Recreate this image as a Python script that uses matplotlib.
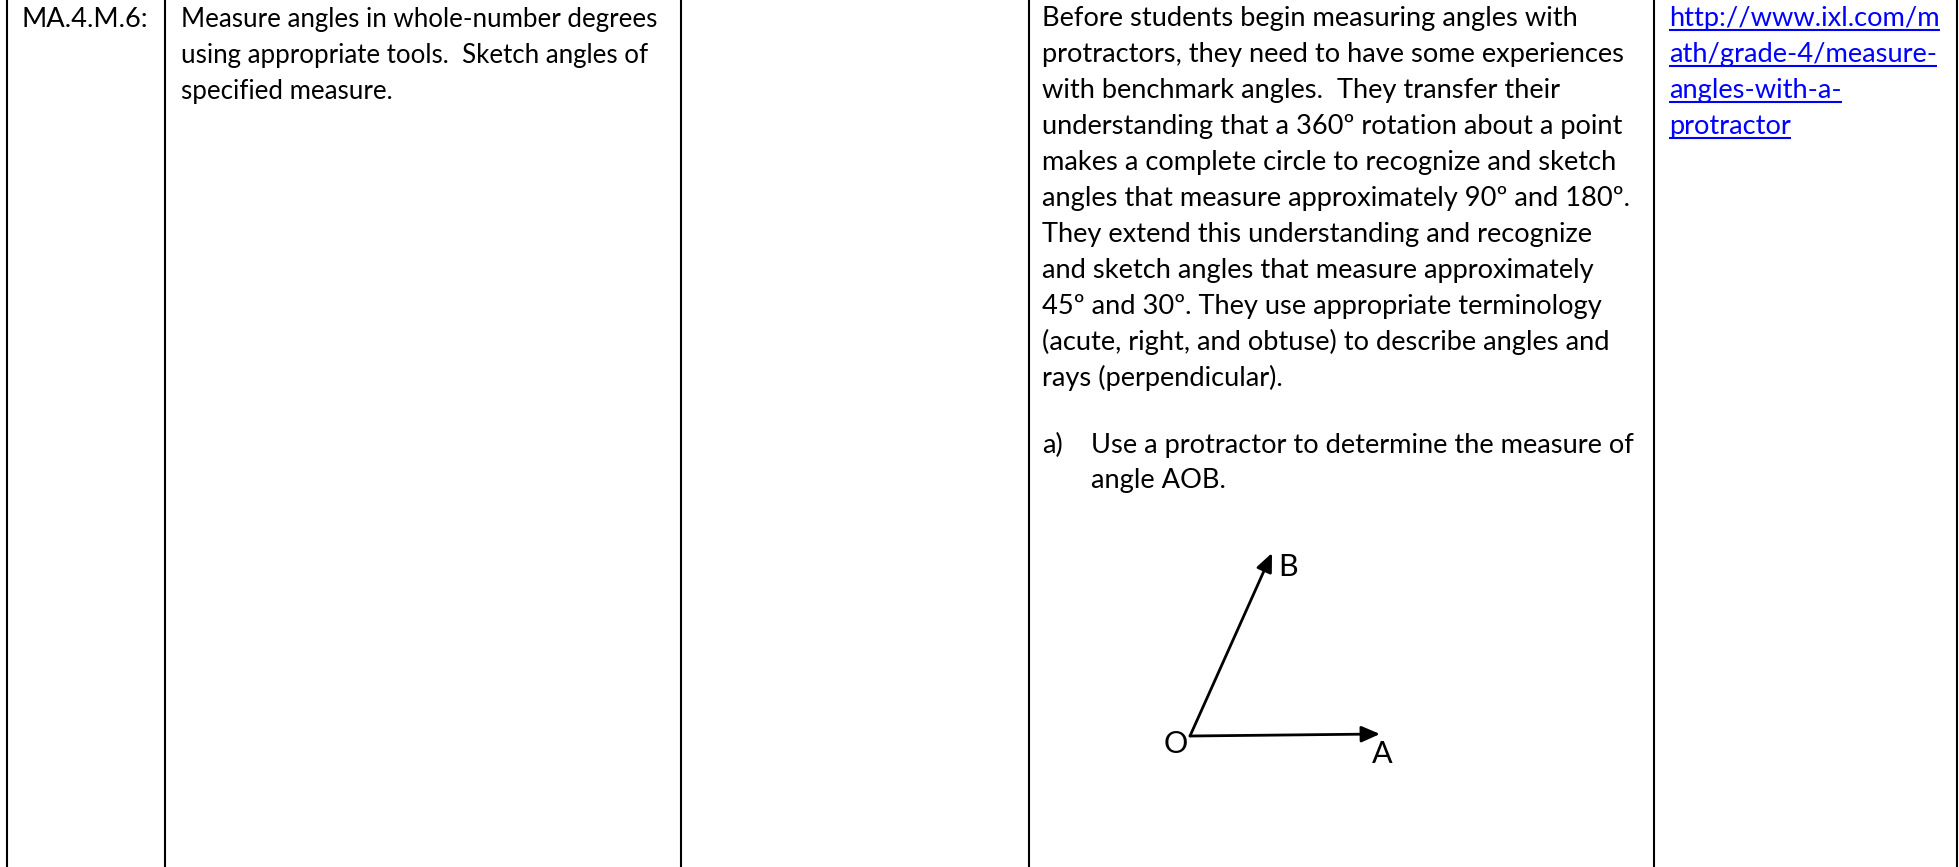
import matplotlib
matplotlib.use('Agg')
import matplotlib.pyplot as plt

W, H = 1959, 867

column_lines = [7, 165, 681, 1029, 1654, 1957]

code_lines = ["MA.4.M.6:"]
standard_lines = [
    "Measure angles in whole-number degrees",
    "using appropriate tools.  Sketch angles of",
    "specified measure.",
]
notes_lines = [
    "Before students begin measuring angles with",
    "protractors, they need to have some experiences",
    "with benchmark angles.  They transfer their",
    "understanding that a 360º rotation about a point",
    "makes a complete circle to recognize and sketch",
    "angles that measure approximately 90º and 180º.",
    "They extend this understanding and recognize",
    "and sketch angles that measure approximately",
    "45º and 30º. They use appropriate terminology",
    "(acute, right, and obtuse) to describe angles and",
    "rays (perpendicular).",
]
item_marker = "a)"
item_lines = [
    "Use a protractor to determine the measure of",
    "angle AOB.",
]
link_lines = [
    "http://www.ixl.com/m",
    "ath/grade-4/measure-",
    "angles-with-a-",
    "protractor",
]

font = 'Lato'
size = 19.6
step = 36

fig = plt.figure(figsize=(W / 100, H / 100), dpi=100, facecolor='white')
ax = fig.add_axes([0, 0, 1, 1])
ax.set_xlim(0, W)
ax.set_ylim(H, 0)
ax.axis('off')

for x in column_lines:
    ax.plot([x, x], [0, H], color='black', lw=1.5, solid_capstyle='butt')


def put_lines(lines, x, y, color='black', underline=False, fontsize=size, gap=step):
    for i, line in enumerate(lines):
        yy = y + i * gap
        t = ax.text(x, yy, line, family=font, fontsize=fontsize, color=color,
                    ha='left', va='baseline')
        if underline:
            box = t.get_window_extent(fig.canvas.get_renderer())
            ax.plot([box.x0, box.x1], [yy + 4, yy + 4], color=color, lw=1.5,
                    solid_capstyle='butt')


put_lines(code_lines, 22, 27)
put_lines(standard_lines, 181, 27, fontsize=18.6)
put_lines(notes_lines, 1042, 26)
put_lines([item_marker], 1042, 453)
put_lines(item_lines, 1091, 453, gap=35)
put_lines(link_lines, 1669, 26, color='#0000FF', underline=True)

# the little angle drawing
arrow = dict(arrowstyle='-|>,head_length=0.8,head_width=0.35', color='black', lw=2,
             shrinkA=0, shrinkB=0, mutation_scale=14)
ax.annotate('', xy=(1380, 734), xytext=(1190, 736), arrowprops=arrow)
ax.annotate('', xy=(1272, 553), xytext=(1190, 736), arrowprops=arrow)
for label, x, y in [('B', 1288, 567), ('O', 1176, 744), ('A', 1382, 754)]:
    ax.text(x, y, label, family=font, fontsize=22, ha='center', va='center')

fig.savefig('out.png', dpi=100)
